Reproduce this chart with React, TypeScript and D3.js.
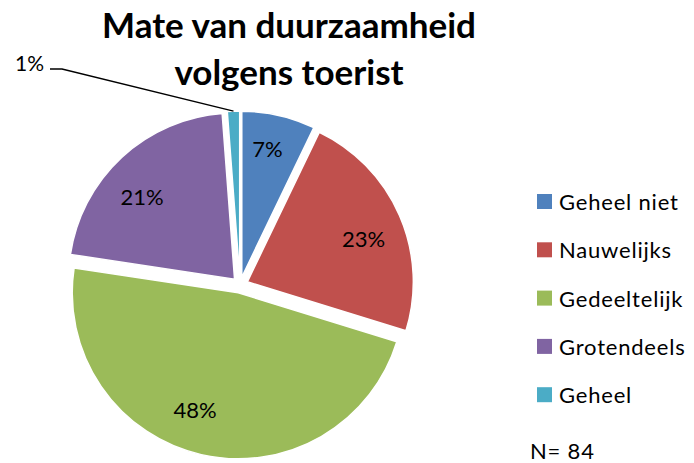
import React from "react";
import * as d3 from "d3";

const categories = ["Geheel niet", "Nauwelijks", "Gedeeltelijk", "Grotendeels", "Geheel"];
const counts = [6, 19, 40, 18, 1];
const colors = ["#4F81BD", "#C0504D", "#9BBB59", "#8064A2", "#4BACC6"];
const titleLines = ["Mate van duurzaamheid", "volgens toerist"];
const nLabel = "N= 84";

export default function App() {
  const W = 694, H = 463;
  const cx = 240, cy = 285, r = 166, explode = 8;
  const total = d3.sum(counts);
  const pie = d3.pie<number>().sort(null).value((d) => d);
  const arcs = pie(counts);
  const arc = d3.arc<d3.PieArcDatum<number>>().innerRadius(0).outerRadius(r);
  const labelR = [131, 124, 124, 124];
  const labelShiftDeg = [-1.5, 3, 7, -5];
  const font = "Lato, 'Open Sans', sans-serif";
  return (
    <svg width={W} height={H} style={{ position: "absolute", left: 0, top: 0 }}>
      <rect width={W} height={H} fill="#fff" />
      {titleLines.map((t, i) => (
        <text key={i} x={289} y={38 + i * 47} textAnchor="middle" fontFamily={font} fontWeight="bold" fontSize={35} fill="#000">
          {t}
        </text>
      ))}
      <g transform={`translate(${cx},${cy})`}>
        {arcs.map((a, i) => {
          const mid = (a.startAngle + a.endAngle) / 2;
          const dx = Math.sin(mid) * explode, dy = -Math.cos(mid) * explode;
          return (
            <path key={i} d={arc(a) || ""} transform={`translate(${dx},${dy})`} fill={colors[i]} stroke="#fff" strokeWidth={1.5} />
          );
        })}
        {arcs.map((a, i) => {
          if (i === 4) return null;
          const mid = (a.startAngle + a.endAngle) / 2 + (labelShiftDeg[i] * Math.PI) / 180;
          const rr = labelR[i] + explode;
          return (
            <text key={i} x={Math.sin(mid) * rr} y={-Math.cos(mid) * rr} textAnchor="middle" dominantBaseline="central" fontFamily={font} fontSize={22} fill="#000">
              {Math.round((counts[i] / total) * 100)}%
            </text>
          );
        })}
      </g>
      {(() => {
        const a = arcs[4];
        const mid = (a.startAngle + a.endAngle) / 2;
        const px = cx + Math.sin(mid) * (r + explode);
        const py = cy - Math.cos(mid) * (r + explode);
        return (
          <g>
            <polyline points={`${px},${py} 62,69 50,69`} fill="none" stroke="#000" strokeWidth={1.4} />
            <text x={44} y={62} textAnchor="end" dominantBaseline="central" fontFamily={font} fontSize={21} fill="#000">
              {Math.round((counts[4] / total) * 100)}%
            </text>
          </g>
        );
      })()}
      {categories.map((c, i) => (
        <g key={c} transform={`translate(537,${201.5 + i * 48.3})`}>
          <rect x={0} y={-7.5} width={15} height={15} fill={colors[i]} />
          <text x={22} y={0} dominantBaseline="central" fontFamily={font} fontSize={22} letterSpacing={0.8} fill="#000">
            {c}
          </text>
        </g>
      ))}
      <text x={530} y={450} dominantBaseline="central" fontFamily={font} fontSize={22} letterSpacing={0.8} fill="#000">
        {nLabel}
      </text>
    </svg>
  );
}
